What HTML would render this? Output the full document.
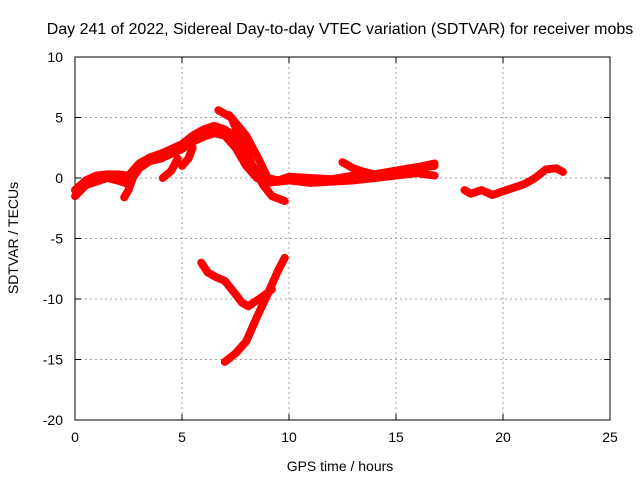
<!DOCTYPE html>
<html><head><meta charset="utf-8"><style>
body{margin:0;background:#fff;}
svg text{font-family:"Liberation Sans",sans-serif;font-size:14px;fill:#000;}
</style></head><body>
<svg id="chart" width="640" height="480" viewBox="0 0 640 480">
<rect width="640" height="480" fill="#fff"/>
<text x="340" y="34" text-anchor="middle" style="font-size:16px">Day 241 of 2022, Sidereal Day-to-day VTEC variation (SDTVAR) for receiver mobs</text>
<g id="grid"></g>
<g id="axes"></g>
<g id="series"></g>
<text x="340" y="471" text-anchor="middle">GPS time / hours</text>
<text transform="translate(18,238) rotate(-90)" text-anchor="middle">SDTVAR / TECUs</text>
</svg>
<script>
const xTicks=[0,5,10,15,20,25];
const yTicks=[10,5,0,-5,-10,-15,-20];
const seriesMainLow=[[0,-1.5],[0.5,-0.6],[1,-0.3],[1.5,0],[2,-0.2],[2.5,-0.5],[3,0.8],[3.5,1.4],[4,1.6],[4.5,2],[5,2.4],[5.5,3],[6,3.4],[6.5,3.7],[7,3.5],[7.5,2.5],[8,1],[8.5,0],[9,-0.4],[9.5,-0.3],[10,-0.2],[11,-0.4],[12,-0.3],[13,-0.2],[14,0],[15,0.2],[16,0.4],[16.8,0.2]];
const seriesMainHigh=[[0,-1],[0.5,-0.2],[1,0.2],[1.5,0.3],[2,0.3],[2.5,0.2],[3,1.2],[3.5,1.7],[4,2],[4.5,2.4],[5,2.8],[5.5,3.5],[6,4],[6.5,4.3],[7,4],[7.5,3.4],[8,1.8],[8.5,0.5],[9,0],[9.5,-0.2],[10,0.1],[11,0],[12,-0.1],[13,0.2],[14,0.3],[15,0.6],[16,0.9],[16.8,1]];
const seriesSteepA=[[6.7,5.6],[7.3,5],[7.8,3],[8.3,1],[8.8,-0.6],[9.2,-1.5],[9.8,-1.9]];
const seriesSteepB=[[7.2,5.2],[8,3.5],[8.6,1.5],[9,0]];
const seriesUpperRight=[[12.5,1.3],[13,0.8],[13.5,0.5],[14,0.3],[15,0.6],[16,0.9],[16.8,1.2]];
const seriesRight=[[18.2,-1],[18.5,-1.3],[19,-1],[19.5,-1.4],[20,-1.1],[20.5,-0.8],[21,-0.5],[21.5,0],[22,0.7],[22.5,0.8],[22.8,0.5]];
const seriesVLeft=[[5.9,-7],[6.2,-7.8],[6.6,-8.2],[7,-8.5],[7.5,-9.6],[7.8,-10.3],[8.1,-10.6],[8.6,-10],[9,-9.5],[9.2,-9.2]];
const seriesVRight=[[7,-15.2],[7.5,-14.5],[8,-13.5],[8.5,-11.5],[9,-9.6],[9.5,-7.6],[9.8,-6.6]];
const seriesSpurA=[[5,1],[5.3,1.6],[5.5,2.5]];
const seriesSpurB=[[4.1,0],[4.5,0.6],[4.8,1.6]];
const seriesSpurC=[[2.3,-1.6],[2.5,-1],[2.7,0]];
const allSeries=[seriesMainLow,seriesMainHigh,seriesSteepA,seriesSteepB,seriesUpperRight,seriesRight,seriesVLeft,seriesVRight,seriesSpurA,seriesSpurB,seriesSpurC];
const seriesNames=['main-low','main-high','steep-a','steep-b','upper-right','right-segment','v-left-arm','v-right-arm','spur-a','spur-b','spur-c'];
const X0=75,X1=610,Y0=420,Y1=57;
function sx(h){return X0+(h-0)/(25-0)*(X1-X0);}
function sy(v){return Y0-(v+20)/30*(Y0-Y1);}
const NS='http://www.w3.org/2000/svg';
const grid=document.getElementById('grid'),axes=document.getElementById('axes'),ser=document.getElementById('series');
function mk(t,a,p){const e=document.createElementNS(NS,t);for(const k in a)e.setAttribute(k,a[k]);p.appendChild(e);return e;}
xTicks.forEach(t=>{
  const x=sx(t);
  if(t>0&&t<25){const g=mk('line',{x1:x,x2:x,y1:Y1,y2:Y0,stroke:'#a0a0a0','stroke-dasharray':'2,3'},grid);
  
  }
  const l=mk('text',{x:x,y:Y0+22,'text-anchor':'middle'},axes);l.textContent=t;
  
  
  mk('line',{x1:x,x2:x,y1:Y0,y2:Y0-6,stroke:'#000'},axes);
  mk('line',{x1:x,x2:x,y1:Y1,y2:Y1+6,stroke:'#000'},axes);
});
yTicks.forEach(t=>{
  const y=sy(t);
  if(t>-20&&t<10){const g=mk('line',{x1:X0,x2:X1,y1:y,y2:y,stroke:'#a0a0a0','stroke-dasharray':'2,3'},grid);
  
  }
  const l=mk('text',{x:X0-12,y:y+5,'text-anchor':'end'},axes);l.textContent=t;
  
  
  mk('line',{x1:X0,x2:X0+6,y1:y,y2:y,stroke:'#000'},axes);
  mk('line',{x1:X1,x2:X1-6,y1:y,y2:y,stroke:'#000'},axes);
});
mk('rect',{x:X0,y:Y1,width:X1-X0,height:Y0-Y1,fill:'none',stroke:'#000'},axes);
allSeries.forEach((s,i)=>{
  const p=mk('polyline',{points:s.map(d=>sx(d[0])+','+sy(d[1])).join(' '),fill:'none',stroke:'#f00','stroke-width':8,'stroke-linejoin':'round','stroke-linecap':'round'},ser);
  
  
});
</script>
</body></html>
